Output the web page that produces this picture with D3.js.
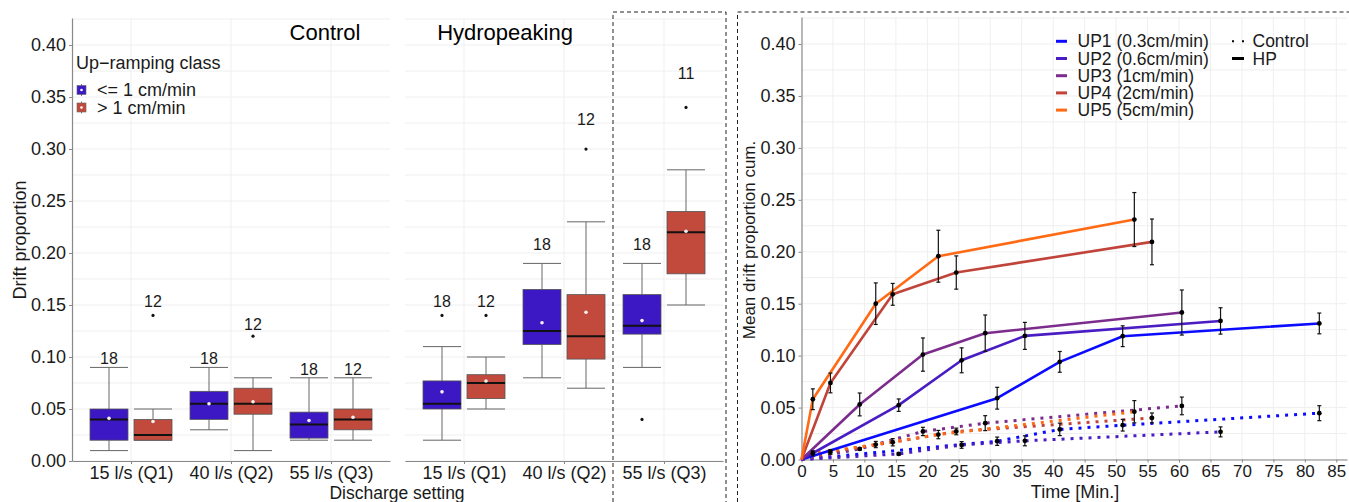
<!DOCTYPE html>
<html>
<head>
<meta charset="utf-8">
<script src="https://cdn.jsdelivr.net/npm/d3@7"></script>
<style>
  body { margin: 0; background: #fff; }
  svg { font-family: "Liberation Sans", Arial, sans-serif; }
</style>
</head>
<body>
<svg width="1349" height="502"></svg>
<script>
// ---- box plot data (order: Q1 <=1, Q1 >1, Q2 <=1, Q2 >1, Q3 <=1, Q3 >1)
const categories = ["15 l/s (Q1)", "40 l/s (Q2)", "55 l/s (Q3)"];
const rampClasses = ["<= 1 cm/min", "> 1 cm/min"];
const yTicks = [0, 0.05, 0.10, 0.15, 0.20, 0.25, 0.30, 0.35, 0.40];

const ctrlLow    = [0.01, 0.02, 0.03, 0.01, 0.02, 0.02];
const ctrlQ1     = [0.02, 0.02, 0.04, 0.045, 0.022, 0.03];
const ctrlMedian = [0.04, 0.025, 0.055, 0.055, 0.035, 0.04];
const ctrlQ3     = [0.05, 0.04, 0.067, 0.07, 0.047, 0.05];
const ctrlHigh   = [0.09, 0.05, 0.09, 0.08, 0.08, 0.08];
const ctrlMean   = [0.041, 0.038, 0.055, 0.057, 0.039, 0.042];
const ctrlOut    = [[], [0.14], [], [0.12], [], []];
const ctrlN      = [18, 12, 18, 12, 18, 12];

const hpLow    = [0.02, 0.05, 0.08, 0.07, 0.09, 0.15];
const hpQ1     = [0.05, 0.06, 0.112, 0.098, 0.122, 0.18];
const hpMedian = [0.055, 0.075, 0.125, 0.12, 0.13, 0.22];
const hpQ3     = [0.077, 0.083, 0.165, 0.16, 0.16, 0.24];
const hpHigh   = [0.11, 0.10, 0.19, 0.23, 0.19, 0.28];
const hpMeanB  = [0.0665, 0.077, 0.133, 0.143, 0.135, 0.221];
const hpOut    = [[0.14], [0.14], [], [0.30], [0.04], [0.34]];
const hpN      = [18, 12, 18, 12, 18, 11];

// ---- cumulative drift data
const upLabels = ["UP1 (0.3cm/min)", "UP2 (0.6cm/min)", "UP3 (1cm/min)", "UP4 (2cm/min)", "UP5 (5cm/min)"];
const upColors = ["#0b0bff", "#4a1dc4", "#7c2c8c", "#c1443b", "#ff6a15"];
const sampleTime = [
  [0, 31.1, 41.05, 51.05, 82.3],
  [0, 15.45, 25.45, 35.5, 66.6],
  [0, 9.25, 19.3, 29.2, 60.45],
  [0, 4.6, 14.5, 24.6, 55.7],
  [0, 1.8, 11.8, 21.75, 52.9]
];
const hpCum = [
  [0, 0.059, 0.094, 0.1187, 0.131],
  [0, 0.0523, 0.0955, 0.119, 0.1334],
  [0, 0.053, 0.101, 0.1216, 0.1415],
  [0, 0.0737, 0.159, 0.180, 0.2095],
  [0, 0.058, 0.150, 0.1957, 0.231]
];
const hpErr = [
  [0, 0.0105, 0.010, 0.010, 0.010],
  [0, 0.006, 0.012, 0.013, 0.0127],
  [0, 0.011, 0.016, 0.0175, 0.0217],
  [0, 0.0095, 0.0105, 0.016, 0.022],
  [0, 0.010, 0.020, 0.025, 0.026]
];
const ctrlCum = [
  [0, 0.0176, 0.029, 0.033, 0.0446],
  [0, 0.0054, 0.014, 0.018, 0.0266],
  [0, 0.0102, 0.027, 0.035, 0.0516],
  [0, 0.0073, 0.0166, 0.027, 0.040],
  [0, 0.006, 0.0144, 0.024, 0.046]
];
const ctrlErr = [
  [0, 0.004, 0.006, 0.0056, 0.0072],
  [0, 0.001, 0.0032, 0.0048, 0.0048],
  [0, 0.001, 0.004, 0.0072, 0.0085],
  [0, 0.0023, 0.0035, 0.0032, 0.0048],
  [0, 0.0025, 0.003, 0.004, 0.0107]
];

const boxFill = ["#3c17c4", "#c24a3c"];
const gridCol = "#efefef";
const axisCol = "#888";
const txtCol = "#1a1a1a";

const svg = d3.select("svg");

const yBox = d3.scaleLinear().domain([0, 0.426]).range([461, 18]);

function makeRows(lo, q1, med, q3, hi, mean, out, n) {
  return d3.range(6).map(i => ({
    cat: categories[Math.floor(i / 2)], cls: i % 2,
    lo: lo[i], q1: q1[i], med: med[i], q3: q3[i], hi: hi[i],
    mean: mean[i], out: out[i], n: n[i]
  }));
}

function boxPanel(x0, x1, rows, title, titleX, leftAxis) {
  const x = d3.scalePoint().domain(categories).range([x0, x1]).padding(0.59);
  const g = svg.append("g");
  const dodge = [-22, 22], bw = 38;

  // grid
  g.selectAll(".hg").data(d3.range(0, 0.426, 0.025)).join("line")
    .attr("x1", x0).attr("x2", x1)
    .attr("y1", d => yBox(d)).attr("y2", d => yBox(d))
    .attr("stroke", gridCol).attr("stroke-width", 1);
  g.selectAll(".vg").data(categories).join("line")
    .attr("x1", d => x(d)).attr("x2", d => x(d))
    .attr("y1", 18).attr("y2", 461)
    .attr("stroke", gridCol);

  const xa = g.append("g").attr("transform", "translate(0,461)")
    .call(d3.axisBottom(x).tickSize(3).tickSizeOuter(0).tickPadding(2));
  xa.select(".domain").attr("stroke", axisCol).attr("stroke-width", 1.2);
  xa.selectAll(".tick line").attr("stroke", axisCol);
  xa.selectAll("text").attr("font-size", 18).attr("fill", txtCol).attr("font-family", "Liberation Sans, Arial");

  if (leftAxis) {
    const ya = g.append("g").attr("transform", `translate(${x0},0)`)
      .call(d3.axisLeft(yBox).tickValues(yTicks).tickFormat(d3.format(".2f")).tickSize(3).tickSizeOuter(0).tickPadding(3));
    ya.select(".domain").attr("stroke", axisCol).attr("stroke-width", 1.2);
    ya.selectAll(".tick line").attr("stroke", axisCol);
    ya.selectAll("text").attr("font-size", 18).attr("fill", txtCol).attr("font-family", "Liberation Sans, Arial");
  }

  const b = g.selectAll(".box").data(rows).join("g")
    .attr("transform", d => `translate(${x(d.cat) + dodge[d.cls]},0)`);

  b.append("line").attr("y1", d => yBox(d.hi)).attr("y2", d => yBox(d.q3))
    .attr("stroke", "#666");
  b.append("line").attr("y1", d => yBox(d.lo)).attr("y2", d => yBox(d.q1))
    .attr("stroke", "#666");
  b.append("line").attr("x1", -bw / 2).attr("x2", bw / 2)
    .attr("y1", d => yBox(d.hi)).attr("y2", d => yBox(d.hi)).attr("stroke", "#666");
  b.append("line").attr("x1", -bw / 2).attr("x2", bw / 2)
    .attr("y1", d => yBox(d.lo)).attr("y2", d => yBox(d.lo)).attr("stroke", "#666");
  b.append("rect").attr("x", -bw / 2).attr("width", bw)
    .attr("y", d => yBox(d.q3)).attr("height", d => yBox(d.q1) - yBox(d.q3))
    .attr("fill", d => boxFill[d.cls]).attr("stroke", "#555").attr("stroke-width", 0.8);
  b.append("line").attr("x1", -bw / 2).attr("x2", bw / 2)
    .attr("y1", d => yBox(d.med)).attr("y2", d => yBox(d.med))
    .attr("stroke", "#111").attr("stroke-width", 2);
  b.append("circle").attr("r", 1.8).attr("cy", d => yBox(d.mean)).attr("fill", "#f2f2f2");
  b.selectAll(".out").data(d => d.out).join("circle")
    .attr("r", 1.6).attr("cy", d => yBox(d)).attr("fill", "#111");
  b.append("text")
    .attr("y", d => yBox(1.095 * d3.max([d.hi, ...d.out])))
    .attr("text-anchor", "middle").attr("dominant-baseline", "central")
    .attr("font-size", 16).attr("fill", txtCol)
    .text(d => d.n);

  svg.append("text").attr("x", titleX).attr("y", 32)
    .attr("text-anchor", "middle").attr("dominant-baseline", "central")
    .attr("font-size", 22).attr("fill", "#000").text(title);
}

boxPanel(72, 390, makeRows(ctrlLow, ctrlQ1, ctrlMedian, ctrlQ3, ctrlHigh, ctrlMean, ctrlOut, ctrlN), "Control", 325, true);
boxPanel(405, 723, makeRows(hpLow, hpQ1, hpMedian, hpQ3, hpHigh, hpMeanB, hpOut, hpN), "Hydropeaking", 505, false);

// axis titles of box plots
svg.append("text").attr("transform", "translate(20,240) rotate(-90)")
  .attr("text-anchor", "middle").attr("dominant-baseline", "central")
  .attr("font-size", 18).attr("fill", txtCol).text("Drift proportion");
svg.append("text").attr("x", 397).attr("y", 492.5)
  .attr("text-anchor", "middle").attr("dominant-baseline", "central")
  .attr("font-size", 17.5).attr("fill", txtCol).text("Discharge setting");

// legend of box plots
svg.append("text").attr("x", 76).attr("y", 63).attr("dominant-baseline", "central")
  .attr("font-size", 18).attr("fill", txtCol).text("Up\u2212ramping class");
const lg = svg.append("g").selectAll("g").data(rampClasses).join("g")
  .attr("transform", (d, i) => `translate(81.5,${90 + i * 17.5})`);
lg.append("line").attr("y1", -6).attr("y2", 6).attr("stroke", "#777");
lg.append("rect").attr("x", -4.5).attr("y", -4.5).attr("width", 9).attr("height", 9)
  .attr("fill", (d, i) => boxFill[i]).attr("stroke", "#666").attr("stroke-width", 0.6);
lg.append("circle").attr("r", 1.3).attr("fill", "#fff");
lg.append("text").attr("x", 15.5).attr("dominant-baseline", "central")
  .attr("font-size", 18).attr("fill", txtCol).text(d => d);

// ---- cumulative panel
const xTime = d3.scaleLinear().domain([0, 86.7]).range([801.5, 1347]);
const yCum = d3.scaleLinear().domain([0, 0.426]).range([459.5, 17]);
const rg = svg.append("g");

rg.selectAll(".hg").data(d3.range(0, 0.426, 0.025)).join("line")
  .attr("x1", 801.5).attr("x2", 1347)
  .attr("y1", d => yCum(d)).attr("y2", d => yCum(d)).attr("stroke", gridCol);
rg.selectAll(".vg").data(d3.range(5, 86, 5)).join("line")
  .attr("x1", d => xTime(d)).attr("x2", d => xTime(d))
  .attr("y1", 17).attr("y2", 459.5).attr("stroke", gridCol);

const rxa = rg.append("g").attr("transform", "translate(0,459.5)")
  .call(d3.axisBottom(xTime).tickValues(d3.range(0, 86, 5)).tickSize(3).tickSizeOuter(0).tickPadding(2));
rxa.select(".domain").attr("stroke", axisCol).attr("stroke-width", 1.2);
rxa.selectAll(".tick line").attr("stroke", axisCol);
rxa.selectAll("text").attr("font-size", 17).attr("fill", txtCol).attr("font-family", "Liberation Sans, Arial");

const rya = rg.append("g").attr("transform", "translate(801.5,0)")
  .call(d3.axisLeft(yCum).tickValues(yTicks).tickFormat(d3.format(".2f")).tickSize(3).tickSizeOuter(0).tickPadding(3));
rya.select(".domain").attr("stroke", axisCol).attr("stroke-width", 1.2);
rya.selectAll(".tick line").attr("stroke", axisCol);
rya.selectAll("text").attr("font-size", 18).attr("fill", txtCol).attr("font-family", "Liberation Sans, Arial");

const series = d3.range(5).map(k => ({
  k,
  hp: sampleTime[k].map((t, j) => ({ t, v: hpCum[k][j], e: hpErr[k][j] })),
  ctrl: sampleTime[k].map((t, j) => ({ t, v: ctrlCum[k][j], e: ctrlErr[k][j] }))
}));

const line = d3.line().x(d => xTime(d.t)).y(d => yCum(d.v));

rg.selectAll(".ctrlLine").data(series).join("path")
  .attr("d", d => line(d.ctrl)).attr("fill", "none")
  .attr("stroke", d => upColors[d.k]).attr("stroke-width", 3)
  .attr("stroke-dasharray", "3,6");
rg.selectAll(".hpLine").data(series).join("path")
  .attr("d", d => line(d.hp)).attr("fill", "none")
  .attr("stroke", d => upColors[d.k]).attr("stroke-width", 2.6)
  .attr("stroke-linejoin", "round");

const pts = series.flatMap(s => [...s.hp.slice(1), ...s.ctrl.slice(1)]);
const eb = rg.selectAll(".eb").data(pts).join("g")
  .attr("transform", d => `translate(${xTime(d.t)},0)`);
eb.append("line").attr("y1", d => yCum(d.v - d.e)).attr("y2", d => yCum(d.v + d.e))
  .attr("stroke", "#111").attr("stroke-width", 1.2);
eb.append("line").attr("x1", -2).attr("x2", 2)
  .attr("y1", d => yCum(d.v + d.e)).attr("y2", d => yCum(d.v + d.e))
  .attr("stroke", "#111").attr("stroke-width", 1.2);
eb.append("line").attr("x1", -2).attr("x2", 2)
  .attr("y1", d => yCum(d.v - d.e)).attr("y2", d => yCum(d.v - d.e))
  .attr("stroke", "#111").attr("stroke-width", 1.2);
eb.append("circle").attr("cy", d => yCum(d.v)).attr("r", 2.4).attr("fill", "#000");

svg.append("text").attr("transform", "translate(749,240) rotate(-90)")
  .attr("text-anchor", "middle").attr("dominant-baseline", "central")
  .attr("font-size", 17).attr("fill", txtCol).text("Mean drift proportion cum.");
svg.append("text").attr("x", 1075).attr("y", 492)
  .attr("text-anchor", "middle").attr("dominant-baseline", "central")
  .attr("font-size", 18).attr("fill", txtCol).text("Time [Min.]");

// legends of cumulative panel
const ul = svg.append("g").selectAll("g").data(upLabels).join("g")
  .attr("transform", (d, i) => `translate(1056,${41.3 + i * 17.2})`);
ul.append("line").attr("x2", 11).attr("stroke", (d, i) => upColors[i]).attr("stroke-width", 3);
ul.append("text").attr("x", 21.5).attr("dominant-baseline", "central")
  .attr("font-size", 17.5).attr("fill", txtCol).text(d => d);

const tl = svg.append("g").selectAll("g").data(["Control", "HP"]).join("g")
  .attr("transform", (d, i) => `translate(1232,${41.3 + i * 17.2})`);
tl.append("line").attr("x2", 12).attr("stroke", "#000").attr("stroke-width", d => d === "HP" ? 3 : 2)
  .attr("stroke-dasharray", d => d === "HP" ? null : "2,8");
tl.append("text").attr("x", 20.5).attr("dominant-baseline", "central")
  .attr("font-size", 17.5).attr("fill", txtCol).text(d => d);

// dashed frames
const frame = svg.append("g").attr("fill", "none").attr("stroke", "#222")
  .attr("stroke-width", 1).attr("stroke-dasharray", "4,3");
frame.append("path").attr("d", "M613,502V12H726V502");
frame.append("path").attr("d", "M737.5,502V12H1349");
</script>
</body>
</html>
